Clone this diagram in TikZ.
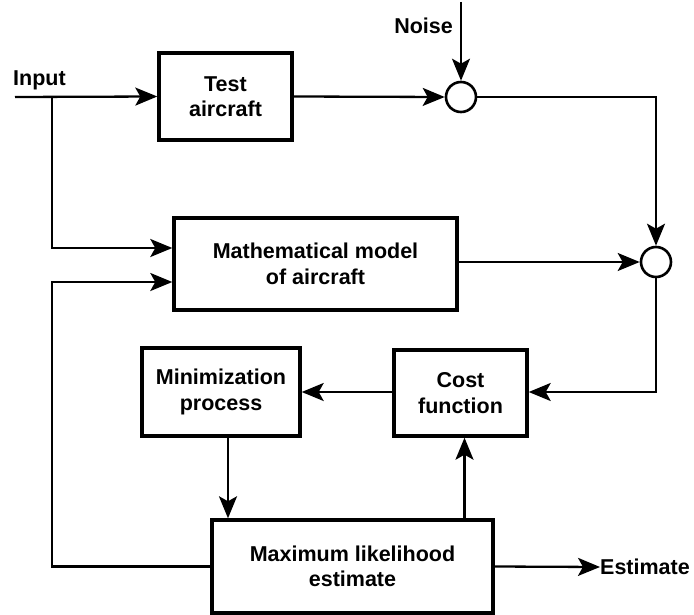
\documentclass[tikz,border=0pt]{standalone}
\usepackage{fontspec}
\setmainfont{Liberation Sans}
\usepackage{tikz}
\usetikzlibrary{arrows.meta,calc}
\tikzset{>={Stealth[length=22pt,width=18pt,inset=5pt]}}
\tikzset{
  blk/.style={draw,line width=3.4pt,align=center,inner sep=0pt,
    font=\fontsize{21.5}{25.5}\selectfont\bfseries},
  summer/.style={draw,circle,line width=2.6pt,minimum size=30pt,inner sep=0pt},
  lbl/.style={font=\fontsize{21.5}{25.5}\selectfont\bfseries,inner sep=0pt},
  wire/.style={line width=2.3pt}
}
\begin{document}
\begin{tikzpicture}[x=1pt,y=-1pt]
\useasboundingbox (0,0) rectangle (694,615);
% blocks
\node[blk,minimum width=133pt,minimum height=87pt] (test) at (225.5,96.5) {Test\\aircraft};
\node[blk,minimum width=283pt,minimum height=92pt] (math) at (315.5,264) {Mathematical model\\of aircraft};
\node[blk,minimum width=158pt,minimum height=88pt] (mini) at (221,392) {Minimization\\process};
\node[blk,minimum width=133pt,minimum height=86pt] (cost) at (460.5,393) {Cost\\function};
\node[blk,minimum width=281pt,minimum height=93pt] (mle) at (352.5,566.5) {Maximum likelihood\\estimate};
\node[summer] (sum1) at (461,97) {};
\node[summer] (sum2) at (656,262) {};
% labels
\node[lbl,anchor=west] (inlbl) at (13,80) {Input};
\node[lbl,anchor=east] (noiselbl) at (453,26) {Noise};
\node[lbl,anchor=west] (estlbl) at (600,567) {Estimate};
\coordinate (inp) at (15,97);
\coordinate (split) at (52,97);
\coordinate (noise) at (461,2);
% connectors
\draw[wire,->] (inp) -- (test.west);
\draw[wire,->] (split) |- (math.west |- 0,248);
\draw[wire,->] (test.east) -- (sum1.west);
\draw[wire,->] (noise) -- (sum1.north);
\draw[wire,->] (sum1.east) -| (sum2.north);
\draw[wire,->] (math.east |- sum2) -- (sum2.west);
\draw[wire,->] (sum2.south) |- (cost.east |- 0,392);
\draw[wire,->] (cost.west |- 0,392) -- (mini.east |- 0,392);
\draw[wire,->] ([xshift=7pt]mini.south) -- ([xshift=7pt]mini.south |- mle.north);
\draw[wire,->] ([xshift=4pt]cost.south |- mle.north) -- ([xshift=4pt]cost.south);
\draw[wire,->] (mle.east) -- (estlbl.west);
\draw[wire,->] (mle.west) -| (split |- 0,282) -- (math.west |- 0,282);
\end{tikzpicture}
\end{document}
